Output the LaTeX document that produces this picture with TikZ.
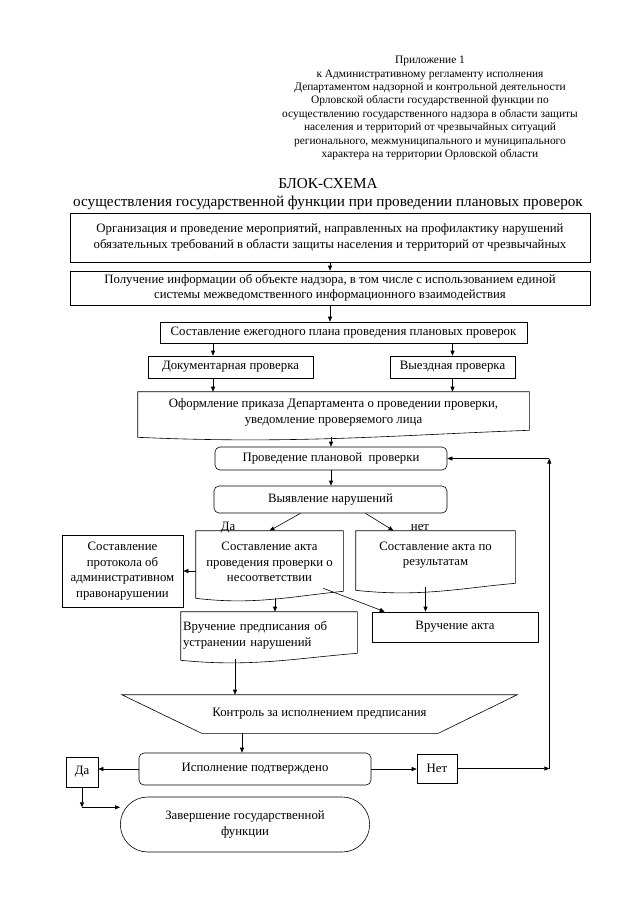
\documentclass[tikz,border=0pt]{standalone}
\usepackage{fontspec}
\setmainfont{Liberation Serif}
\usepackage{tikz}
\usetikzlibrary{arrows.meta, positioning, calc, shapes.misc}

\newcommand{\hdrfont}{\fontsize{11.4}{13.4}\selectfont}
\newcommand{\ttlfont}{\fontsize{15.2}{18}\selectfont}
\newcommand{\boxfont}{\fontsize{12.8}{15.5}\selectfont}

% outline of a "document" block: node, extra depth of the wavy bottom
\newcommand{\docshape}[2]{
    \coordinate (#1-bl) at ([yshift=-#2]#1.south west);
    \coordinate (#1-br) at ([yshift=-#2]#1.south east);
    \draw (#1.north west) -- (#1.north east) -- ([yshift=7pt]#1-br)
        .. controls ([yshift=2pt]$(#1-br)!0.35!(#1-bl)$) and ([yshift=-7pt]$(#1-br)!0.6!(#1-bl)$) .. (#1-bl) -- cycle;
}

\begin{document}
\begin{tikzpicture}[x=1pt, y=-1pt, line width=0.6pt,
        box/.style={draw, align=center, inner sep=2pt, font=\boxfont},
        rbox/.style={box, rounded corners=5pt},
        docnode/.style={align=center, inner sep=2pt, font=\boxfont},
        arr/.style={-{Triangle[length=5pt,width=4pt]}}]
    \useasboundingbox (0,0) rectangle (640,905);

    % heading
    \node[align=center, font=\hdrfont] (prilozh) at (430,108) {Приложение 1\\к Административному регламенту исполнения\\Департаментом надзорной и контрольной деятельности\\Орловской области государственной функции по\\осуществлению государственного надзора в области защиты\\населения и территорий от чрезвычайных ситуаций\\регионального, межмуниципального и муниципального\\характера на территории Орловской области};
    \node[align=center, font=\ttlfont] (title) at (328,194) {БЛОК-СХЕМА\\осуществления государственной функции при проведении плановых проверок};

    % upper part
    \node[box, minimum width=520pt, minimum height=49pt] (org) at (330,237.5) {Организация и проведение мероприятий, направленных на профилактику нарушений\\обязательных требований в области защиты населения и территорий от чрезвычайных};
    \node[box, minimum width=520pt, minimum height=34pt] (info) at (330,288) {Получение информации об объекте надзора, в том числе с использованием единой\\системы межведомственного информационного взаимодействия};
    \node[box, minimum width=367pt, minimum height=21pt] (plan) at (343.5,332.5) {Составление ежегодного плана проведения плановых проверок};
    \node[box, minimum width=165pt, minimum height=22pt] (docum) at (230.5,367) {Документарная проверка};
    \node[box, minimum width=125pt, minimum height=22pt] (vyezd) at (452.5,367) {Выездная проверка};
    \node[docnode, minimum width=391pt, minimum height=41pt] (prikaz) at (333.5,412.5) {Оформление приказа Департамента о проведении проверки,\\уведомление проверяемого лица};
    \docshape{prikaz}{4pt}

    \draw[arr] (org) -- (info);
    \draw[arr] (info.south) -- (info.south |- plan.north);
    \coordinate (d1) at ([xshift=-17.5pt]docum.north);
    \draw[arr] (d1 |- plan.south) -- (d1);
    \draw[arr] (vyezd.north |- plan.south) -- (vyezd.north);
    \draw[arr] (d1 |- docum.south) -- (d1 |- prikaz.north);
    \draw[arr] (vyezd.south) -- (vyezd.south |- prikaz.north);

    % inspection
    \node[rbox, minimum width=232pt, minimum height=23pt] (proved) at (331,458.5) {Проведение плановой \ проверки};
    \node[rbox, minimum width=233pt, minimum height=27pt] (vyyav) at (330.5,499.5) {Выявление нарушений};
    \draw[arr] (prikaz-bl -| proved.north) -- (proved.north);
    \draw[arr] (proved.south) -- (proved.south |- vyyav.north);

    % results
    \node[box, minimum width=121pt, minimum height=72pt] (prot) at (122.5,571) {Составление\\протокола об\\административном\\правонарушении};
    \node[docnode, minimum width=147pt, minimum height=62pt] (akt) at (269.5,562) {Составление акта\\проведения проверки о\\несоответствии};
    \docshape{akt}{5pt}
    \node[docnode, minimum width=159pt, minimum height=48pt] (rez) at (435.5,555) {Составление акта по\\результатам};
    \docshape{rez}{11pt}
    \node[font=\boxfont] (da1) at (228,528) {Да};
    \node[font=\boxfont] (net1) at (420,528) {нет};

    \draw[arr] ([xshift=-30pt]vyyav.south) -- (akt.north);
    \draw[arr] ([xshift=35pt]vyyav.south) -- ([xshift=-42pt]rez.north);
    \draw[arr] (akt.west |- prot.east) -- (prot.east);

    \node[docnode, align=left, text width=172pt, minimum height=47pt] (vruch) at (269,635.5) {Вручение предписания об\\устранении нарушений};
    \docshape{vruch}{1pt}
    \node[box, minimum width=166pt, minimum height=30pt] (akt2) at (455,627) {Вручение акта};

    \coordinate (v1) at ([xshift=6pt]vruch.north);
    \draw[arr] (v1 |- akt-bl) -- (v1);
    \draw[arr] ([xshift=-20pt,yshift=5pt]akt.south east) -- ([xshift=13pt]akt2.north west);
    \coordinate (r1) at ([xshift=-10pt,yshift=-8pt]rez.south);
    \draw[arr] (r1) -- (r1 |- akt2.north);

    % control
    \node[font=\boxfont, minimum width=395pt, minimum height=38pt] (kontrol) at (319.5,714) {Контроль за исполнением предписания};
    \draw (kontrol.north west) -- (kontrol.north east) -- ([xshift=-79pt]kontrol.south east) -- ([xshift=80pt]kontrol.south west) -- cycle;
    \coordinate (v2) at ([xshift=-34pt]vruch.south);
    \draw[arr] (v2) -- (v2 |- kontrol.north);

    \node[rbox, minimum width=232pt, minimum height=32pt] (ispoln) at (255,769) {Исполнение подтверждено};
    \node[box, minimum width=32pt, minimum height=30pt] (da) at (82,772) {Да};
    \node[box, minimum width=40pt, minimum height=29pt] (net) at (437,768.5) {Нет};
    \node[draw, rounded rectangle, align=center, font=\boxfont, minimum width=256pt, minimum height=55pt] (zav) at (245,824.5) {Завершение государственной\\функции};

    \coordinate (k1) at ([xshift=-13pt]ispoln.north);
    \draw[arr] (k1 |- kontrol.south) -- (k1);
    \draw[arr] (ispoln.west) -- (ispoln.west -| da.east);
    \draw[arr] (ispoln.east) -- (ispoln.east -| net.west);

    % back to inspection
    \coordinate (fb) at ([xshift=92pt]net.east);
    \coordinate (fbtop) at (fb |- proved.east);
    \draw[arr] (net.east) -- (fb);
    \draw[arr] (fb) -- (fbtop);
    \draw[arr] (fbtop) -- (proved.east);

    % end
    \coordinate (dz) at ([yshift=-20pt]da.south);
    \draw[arr] (da.south) -- (dz);
    \draw[arr] (dz) -- (dz -| zav.west);
\end{tikzpicture}
\end{document}
